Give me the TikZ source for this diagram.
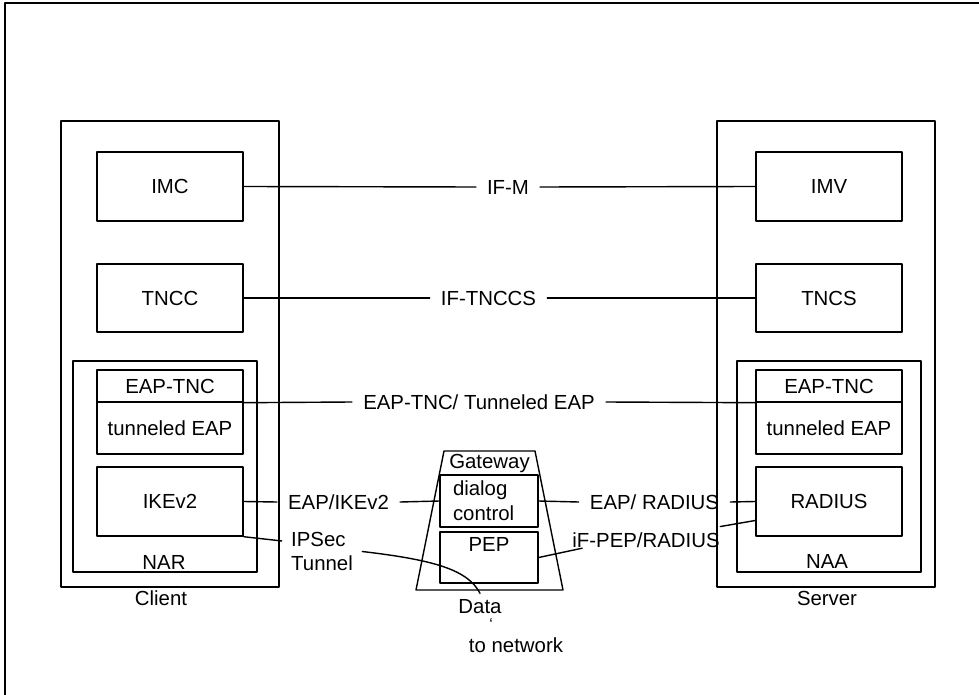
\documentclass[tikz,border=0pt]{standalone}
\usepackage{fontspec}
\setmainfont{Liberation Sans}
\usetikzlibrary{arrows.meta}

\begin{document}
\begin{tikzpicture}[x=0.02cm, y=-0.02cm, line cap=round, line join=round,
	line width=0.8pt, font=\fontsize{11.6}{14}\selectfont,
	frame/.style={draw, inner sep=0pt},
	unit/.style={draw, inner sep=0pt, minimum width=2.92cm},
	iface/.style={inner xsep=6pt, inner ysep=2pt}]

\useasboundingbox (0,0) rectangle (979,695);
\draw (5,695) -- (5,3) -- (979,3);

% ==== Left: client ====
\node[frame, minimum width=4.36cm, minimum height=9.32cm] (client) at (170,354) {};
\node (clientlbl) at (161,598) {Client};
\node[frame, minimum width=3.68cm, minimum height=4.22cm] (nar) at (165,466.5) {};
\node (narlbl) at (164,562) {NAR};
\node[unit, minimum height=1.38cm] (imc) at (170,186.5) {IMC};
\node[unit, minimum height=1.36cm] (tncc) at (170,298) {TNCC};
\node[unit, minimum height=0.64cm] (eaptncC) at (170,386) {EAP-TNC};
\node[unit, minimum height=1.04cm] (teapC) at (170,428) {tunneled EAP};
\node[unit, minimum height=1.38cm] (ikev2) at (170,501.5) {IKEv2};

% ==== Right: server ====
\node[frame, minimum width=4.36cm, minimum height=9.32cm] (server) at (826,354) {};
\node (serverlbl) at (827,598) {Server};
\node[frame, minimum width=3.68cm, minimum height=4.22cm] (naa) at (829,466.5) {};
\node (naalbl) at (827,561) {NAA};
\node[unit, minimum height=1.38cm] (imv) at (829,186.5) {IMV};
\node[unit, minimum height=1.36cm] (tncs) at (829,298) {TNCS};
\node[unit, minimum height=0.64cm] (eaptncS) at (829,386) {EAP-TNC};
\node[unit, minimum height=1.04cm] (teapS) at (829,428) {tunneled EAP};
\node[unit, minimum height=1.38cm] (radius) at (829,501.5) {RADIUS};

% ==== Middle: gateway ====
\draw (416,590) -- (444,451) -- (535,451) -- (563,590) -- cycle;
\node (gwlbl) at (489.5,463) {Gateway};
\node[unit, minimum width=1.96cm, minimum height=1.04cm, text width=1.44cm,
	inner xsep=0.26cm, align=left] (dialog) at (489,501) {dialog\\control};
\node[unit, minimum width=1.96cm, minimum height=1.02cm,
	label={[name=peplbl, anchor=north, inner sep=3pt]north:PEP}] (pep) at (489,557.5) {};

% interfaces
\node[iface] (ifm) at (508,187) {IF-M};
\node[iface] (iftnccs) at (488.5,298) {IF-TNCCS};
\node[iface] (ifeap) at (479,402) {EAP-TNC/ Tunneled EAP};
\node[iface] (eapike) at (338.5,502) {EAP/IKEv2};
\node[iface] (eaprad) at (654.5,502) {EAP/ RADIUS};
\node[inner sep=0pt] (ifpep) at (646,540) {iF-PEP/RADIUS};
\node[inner xsep=5pt, inner ysep=3pt, align=left] (ipsec) at (322,551.5) {IPSec\\Tunnel};
\node (data) at (480,607) {Data};
\node[inner sep=0pt, font=\fontsize{9}{10}\selectfont] (tick) at (491,624) {`};
\node (net) at (516,645) {to network};

\draw (imc.east) -- (ifm.west) (ifm.east) -- (imv.west);
\draw (tncc.east) -- (iftnccs.west) (iftnccs.east) -- (tncs.west);
\draw (eaptncC.south east) -- (ifeap.west) (ifeap.east) -- (eaptncS.south west);
\draw (ikev2.east) -- (eapike.west) (eapike.east) -- (dialog.west);
\draw (dialog.east) -- (eaprad.west) (eaprad.east) -- (radius.west);
\draw (pep.east) -- ([xshift=6pt]ifpep.south west);
\draw ([yshift=3pt]ifpep.north east) -- ([yshift=-10.8pt]radius.west);
\draw (ikev2.south east) -- ([yshift=6pt]ipsec.west);
\draw (ipsec.east) .. controls (435,560) and (468,570) .. (data.north);

\end{tikzpicture}
\end{document}
